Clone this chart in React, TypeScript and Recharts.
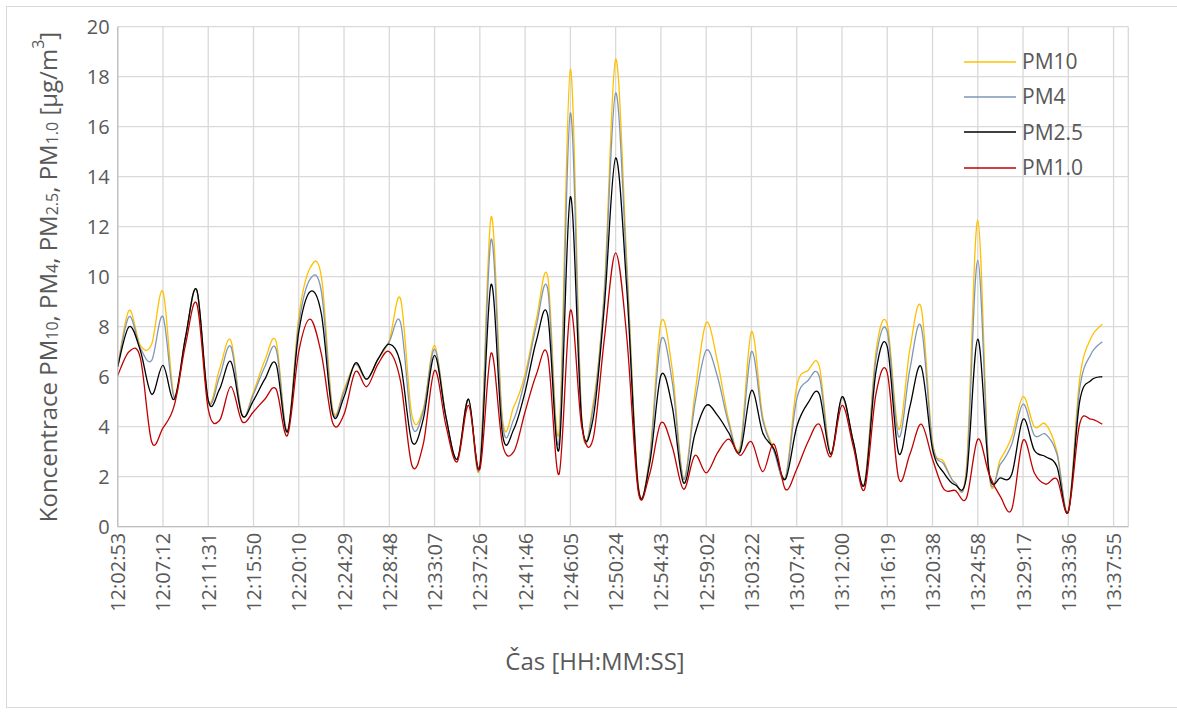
import React from "react";
import { LineChart, Line, XAxis, YAxis, CartesianGrid, Legend } from "recharts";

// one label every LABEL_STEP samples on the category axis
const TIME_LABELS = [
  "12:02:53", "12:07:12", "12:11:31", "12:15:50", "12:20:10", "12:24:29",
  "12:28:48", "12:33:07", "12:37:26", "12:41:46", "12:46:05", "12:50:24",
  "12:54:43", "12:59:02", "13:03:22", "13:07:41", "13:12:00", "13:16:19",
  "13:20:38", "13:24:58", "13:29:17", "13:33:36", "13:37:55",
];
const LABEL_STEP = 4;
const LAST_CATEGORY = 89.3;

const SERIES_ORDER = ["PM10", "PM4", "PM2.5", "PM1.0"];

const PM10 = [
  6.4, 8.65, 7.25, 7.3, 9.4, 5.2, 7.6, 9.45, 5.05, 6.3,
  7.45, 4.45, 5.4, 6.65, 7.4, 3.8, 8.4, 10.35, 10.0, 4.7,
  5.5, 6.5, 5.9, 6.7, 7.45, 9.1, 4.45, 4.7, 7.25, 4.4,
  2.7, 5.1, 2.4, 12.4, 4.3, 4.8, 6.1, 8.3, 10.0, 3.8,
  18.3, 4.35, 4.9, 9.5, 18.7, 10.5, 1.65, 2.8, 8.15, 6.3,
  1.95, 5.3, 8.15, 6.6, 4.25, 3.2, 7.8, 4.4, 3.1, 1.95,
  5.6, 6.25, 6.4, 2.9, 5.15, 3.4, 1.75, 7.0, 8.1, 3.9,
  7.1, 8.75, 3.4, 2.6, 1.75, 2.4, 12.25, 2.15, 2.7, 3.6,
  5.2, 4.0, 4.1, 3.0, 0.62, 5.9, 7.55, 8.1,
];
const PM4 = [
  6.4, 8.4, 7.15, 6.65, 8.4, 5.15, 7.6, 9.45, 5.05, 6.0,
  7.2, 4.45, 5.3, 6.4, 7.1, 3.8, 8.1, 9.9, 9.4, 4.6,
  5.4, 6.5, 5.9, 6.7, 7.4, 8.15, 4.05, 4.6, 7.1, 4.4,
  2.7, 5.1, 2.4, 11.5, 4.1, 4.3, 5.9, 8.05, 9.5, 3.4,
  16.55, 4.3, 4.7, 9.3, 17.35, 10.1, 1.6, 2.7, 7.45, 5.8,
  1.9, 4.9, 7.05, 6.0, 4.1, 3.1, 7.0, 4.25, 3.0, 1.95,
  5.1, 5.85, 6.0, 2.9, 5.15, 3.4, 1.75, 6.7, 7.8, 3.6,
  6.3, 8.0, 3.3, 2.5, 1.75, 2.2, 10.65, 2.15, 2.5, 3.3,
  4.9, 3.65, 3.7, 2.9, 0.62, 5.5, 6.9, 7.4,
];
const PM25 = [
  6.4, 8.0, 7.05, 5.3, 6.45, 5.1, 7.6, 9.45, 5.05, 5.5,
  6.6, 4.45, 5.05, 5.9, 6.5, 3.8, 7.8, 9.4, 8.5, 4.5,
  5.2, 6.55, 5.9, 6.7, 7.3, 6.5, 3.4, 4.3, 6.85, 4.4,
  2.7, 5.1, 2.4, 9.7, 3.7, 3.9, 5.4, 7.45, 8.45, 3.1,
  13.2, 4.25, 4.3, 8.8, 14.75, 9.4, 1.55, 2.5, 6.05, 4.8,
  1.75, 3.7, 4.85, 4.45, 3.75, 3.0, 5.45, 3.75, 3.1, 1.9,
  4.0, 4.95, 5.3, 2.9, 5.2, 3.4, 1.7, 6.2, 7.2, 2.95,
  4.8, 6.4, 3.1, 2.15, 1.67, 2.0, 7.5, 2.15, 1.95, 2.1,
  4.3, 3.05, 2.8, 2.4, 0.6, 5.0, 5.85, 6.0,
];
const PM1 = [
  6.05, 7.0, 6.75, 3.4, 3.95, 4.85, 7.3, 8.9, 4.7, 4.25,
  5.6, 4.2, 4.6, 5.1, 5.5, 3.65, 7.0, 8.3, 6.9, 4.15,
  4.5, 6.2, 5.6, 6.5, 7.0, 5.8, 2.45, 3.3, 6.25, 4.05,
  2.6, 4.85, 2.3, 6.95, 3.3, 3.0, 4.6, 6.1, 6.85, 2.1,
  8.65, 4.0, 3.5, 7.5, 10.95, 7.5, 1.4, 2.1, 4.15, 3.2,
  1.5, 2.85, 2.15, 2.95, 3.5, 2.85, 3.4, 2.2, 3.3, 1.5,
  2.3, 3.4, 4.1, 2.8, 4.85, 3.2, 1.5, 5.3, 6.15, 1.95,
  2.9, 4.1, 2.7, 1.5, 1.45, 1.15, 3.5, 2.1, 1.2, 0.7,
  3.45, 2.15, 1.7, 1.9, 0.6, 4.1, 4.3, 4.1,
];

const rows = PM10.map((v, i) => ({
  idx: i,
  pm10: v,
  pm4: PM4[i],
  pm25: PM25[i],
  pm1: PM1[i],
}));

const FONT = "'Open Sans', 'Noto Sans', sans-serif";
const TEXT = "#595959";

// Excel-like smoothed line (Catmull-Rom through every point)
const excelSmooth = (context: any) => {
  let pts: [number, number][] = [];
  return {
    areaStart() {},
    areaEnd() {},
    lineStart() {
      pts = [];
    },
    point(x: number, y: number) {
      pts.push([+x, +y]);
    },
    lineEnd() {
      const n = pts.length;
      if (!n) return;
      context.moveTo(pts[0][0], pts[0][1]);
      for (let i = 0; i < n - 1; i++) {
        const p0 = pts[Math.max(i - 1, 0)];
        const p1 = pts[i];
        const p2 = pts[i + 1];
        const p3 = pts[Math.min(i + 2, n - 1)];
        context.bezierCurveTo(
          p1[0] + (p2[0] - p0[0]) / 6,
          p1[1] + (p2[1] - p0[1]) / 6,
          p2[0] - (p3[0] - p1[0]) / 6,
          p2[1] - (p3[1] - p1[1]) / 6,
          p2[0],
          p2[1]
        );
      }
    },
  };
};

const TimeTick = ({ x, y, payload }: any) => (
  <text
    x={x}
    y={y}
    transform={`rotate(-90 ${x} ${y})`}
    textAnchor="end"
    dominantBaseline="central"
    fill={TEXT}
    fontSize={20}
    fontFamily={FONT}
  >
    {TIME_LABELS[Math.round(payload.value / LABEL_STEP)]}
  </text>
);

const LegendBox = ({ payload }: any) => {
  const items = [...(payload || [])].sort(
    (a: any, b: any) => SERIES_ORDER.indexOf(a.value) - SERIES_ORDER.indexOf(b.value)
  );
  return (
    <div style={{ fontFamily: FONT, fontSize: 21, color: TEXT }}>
      {items.map((p: any) => (
        <div
          key={p.value}
          style={{ display: "flex", alignItems: "center", height: 35.3 }}
        >
          <svg width={52} height={4} style={{ display: "block" }}>
            <line x1={0} y1={2} x2={52} y2={2} stroke={p.color} strokeWidth={1.5} />
          </svg>
          <span style={{ marginLeft: 6, lineHeight: "21px" }}>{p.value}</span>
        </div>
      ))}
    </div>
  );
};

export default function App() {
  const xTicks = TIME_LABELS.map((_, k) => k * LABEL_STEP);
  const yTicks = [0, 2, 4, 6, 8, 10, 12, 14, 16, 18, 20];
  return (
    <div style={{ position: "relative", width: 1177, height: 715, background: "#fff" }}>
      <style>{`body{margin:0;}`}</style>
      <div
        style={{
          position: "absolute",
          left: 6,
          top: 6,
          width: 1190,
          height: 702,
          border: "1px solid #d9d9d9",
          boxSizing: "border-box",
        }}
      />
      <LineChart
        width={1177}
        height={715}
        data={rows}
        margin={{ top: 26.7, right: 48.7, bottom: 0, left: 0 }}
      >
        <CartesianGrid stroke="#d9d9d9" strokeWidth={1.3} />
        <XAxis
          dataKey="idx"
          type="number"
          domain={[0, LAST_CATEGORY]}
          ticks={xTicks}
          interval={0}
          height={188.3}
          tick={<TimeTick />}
          tickLine={false}
          tickSize={4}
          axisLine={{ stroke: "#bfbfbf", strokeWidth: 1.3 }}
        />
        <YAxis
          type="number"
          domain={[0, 20]}
          ticks={yTicks}
          interval={0}
          width={117.7}
          tickLine={false}
          axisLine={{ stroke: "#bfbfbf", strokeWidth: 1.3 }}
          tick={{ fill: TEXT, fontSize: 20, fontFamily: FONT }}
        />
        <Legend
          layout="vertical"
          align="center"
          verticalAlign="middle"
          content={<LegendBox />}
          wrapperStyle={{ left: 964, top: 44, width: 160, height: 145 }}
        />
        <Line dataKey="pm10" name="PM10" stroke="#FFC000" strokeWidth={1.3} type={excelSmooth as any} dot={false} activeDot={false} isAnimationActive={false} />
        <Line dataKey="pm4" name="PM4" stroke="#7F96B8" strokeWidth={1.3} type={excelSmooth as any} dot={false} activeDot={false} isAnimationActive={false} />
        <Line dataKey="pm25" name="PM2.5" stroke="#000000" strokeWidth={1.3} type={excelSmooth as any} dot={false} activeDot={false} isAnimationActive={false} />
        <Line dataKey="pm1" name="PM1.0" stroke="#C00000" strokeWidth={1.3} type={excelSmooth as any} dot={false} activeDot={false} isAnimationActive={false} />
      </LineChart>
      <svg
        width={1177}
        height={715}
        style={{ position: "absolute", left: 0, top: 0, pointerEvents: "none" }}
      >
        <text
          x={47}
          y={277}
          transform="rotate(-90 47 277)"
          textAnchor="middle"
          dominantBaseline="central"
          fill={TEXT}
          fontSize={24}
          fontFamily={FONT}
        >
          Koncentrace PM<tspan fontSize={16} dy={5}>10</tspan>
          <tspan dy={-5}>, PM</tspan><tspan fontSize={16} dy={5}>4</tspan>
          <tspan dy={-5}>, PM</tspan><tspan fontSize={16} dy={5}>2.5</tspan>
          <tspan dy={-5}>, PM</tspan><tspan fontSize={16} dy={5}>1.0</tspan>
          <tspan dy={-5}> [µg/m</tspan><tspan fontSize={16} dy={-9}>3</tspan>
          <tspan dy={9}>]</tspan>
        </text>
        <text
          x={595}
          y={660}
          textAnchor="middle"
          dominantBaseline="central"
          fill={TEXT}
          fontSize={24}
          fontFamily={FONT}
        >
          Čas [HH:MM:SS]
        </text>
      </svg>
    </div>
  );
}
